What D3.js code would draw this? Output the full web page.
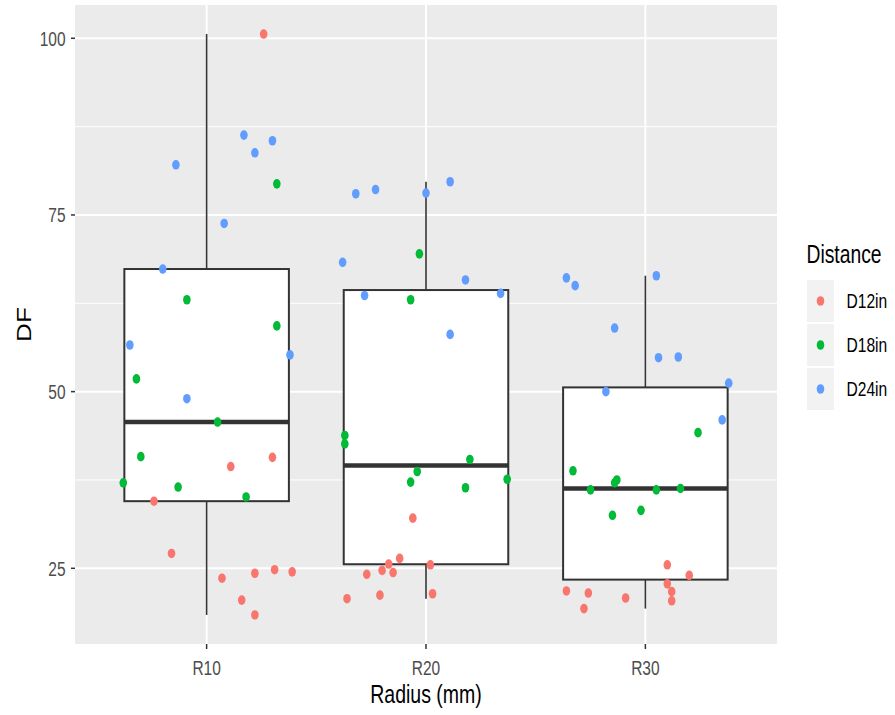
<!DOCTYPE html>
<html>
<head>
<meta charset="utf-8">
<script src="https://cdn.jsdelivr.net/npm/d3@7"></script>
<style>
  body { margin: 0; background: #fff; }
  text { font-family: "Liberation Sans", Arial, sans-serif; }
</style>
</head>
<body>
<svg id="chart" width="895" height="715"></svg>
<script>
const categories = ['R10', 'R20', 'R30'];
const distances = ['D12in', 'D18in', 'D24in'];
const colors = ['#F8766D', '#00BA38', '#619CFF'];
const yTicks = [25, 50, 75, 100];
const yMinor = [37.5, 62.5, 87.5];

// DF values, with the horizontal jitter (in category steps)
const dfR10D12 = [100.6, 40.7, 39.4, 34.5, 27.1, 23.6, 24.3, 24.8, 24.5, 20.5, 18.4];
const jitR10D12 = [0.26, 0.30, 0.11, -0.24, -0.16, 0.07, 0.22, 0.31, 0.39, 0.16, 0.22];
const dfR10D18 = [79.4, 63.0, 59.3, 51.8, 45.7, 40.8, 37.1, 36.5, 35.1];
const jitR10D18 = [0.32, -0.09, 0.32, -0.32, 0.05, -0.30, -0.38, -0.13, 0.18];
const dfR10D24 = [86.3, 85.5, 83.8, 82.1, 73.8, 67.35, 56.6, 55.2, 49.0];
const jitR10D24 = [0.17, 0.30, 0.22, -0.14, 0.08, -0.20, -0.35, 0.38, -0.09];

const dfR20D12 = [32.1, 26.4, 25.6, 25.5, 24.7, 24.4, 24.15, 20.7, 21.2, 21.4];
const jitR20D12 = [-0.06, -0.12, -0.17, 0.02, -0.20, -0.15, -0.27, -0.36, -0.21, 0.03];
const dfR20D18 = [69.5, 63.0, 43.8, 42.6, 40.4, 38.7, 37.2, 36.4, 37.6];
const jitR20D18 = [-0.03, -0.07, -0.37, -0.37, 0.20, -0.04, -0.07, 0.18, 0.37];
const dfR20D24 = [78.0, 78.6, 78.1, 79.7, 68.3, 65.8, 63.6, 63.9, 58.1];
const jitR20D24 = [-0.32, -0.23, 0.0, 0.11, -0.38, 0.18, -0.28, 0.34, 0.11];

const dfR30D12 = [25.5, 24.0, 22.8, 21.7, 20.4, 21.8, 21.5, 20.8, 19.3];
const jitR30D12 = [0.10, 0.20, 0.10, 0.12, 0.12, -0.36, -0.26, -0.09, -0.28];
const dfR30D18 = [44.2, 38.8, 37.5, 37.1, 36.1, 36.1, 36.3, 32.5, 33.2];
const jitR30D18 = [0.24, -0.33, -0.13, -0.14, -0.25, 0.05, 0.16, -0.15, -0.02];
const dfR30D24 = [66.1, 65.0, 66.4, 59.0, 54.8, 54.9, 51.2, 50.0, 46.0];
const jitR30D24 = [-0.36, -0.32, 0.05, -0.14, 0.06, 0.15, 0.38, -0.18, 0.35];

const groups = [
  ['R10', 'D12in', dfR10D12, jitR10D12], ['R10', 'D18in', dfR10D18, jitR10D18], ['R10', 'D24in', dfR10D24, jitR10D24],
  ['R20', 'D12in', dfR20D12, jitR20D12], ['R20', 'D18in', dfR20D18, jitR20D18], ['R20', 'D24in', dfR20D24, jitR20D24],
  ['R30', 'D12in', dfR30D12, jitR30D12], ['R30', 'D18in', dfR30D18, jitR30D18], ['R30', 'D24in', dfR30D24, jitR30D24]
];

const points = groups.flatMap(([cat, dist, vals, jit]) =>
  vals.map((v, i) => ({ cat, dist, df: v, jitter: jit[i] })));

const panel = { left: 75, top: 5, right: 777, bottom: 644 };
const textStretch = 1.34; // picture is a little taller than wide

const svg = d3.select('#chart');

const x = d3.scalePoint()
  .domain(categories)
  .range([panel.left, panel.right])
  .padding(0.6);
const step = x.step();

const ext = d3.extent(points, d => d.df);
const pad = (ext[1] - ext[0]) * 0.05;
const y = d3.scaleLinear()
  .domain([ext[0] - pad, ext[1] + pad])
  .range([panel.bottom, panel.top]);

const color = d3.scaleOrdinal().domain(distances).range(colors);

const stretchText = (sel, tx, ty, rot = 0) => {
  sel.attr('transform', rot
    ? `translate(${tx},${ty}) rotate(${rot}) scale(${textStretch},1)`
    : `translate(${tx},${ty}) scale(1,${textStretch})`);
  return sel;
};

// panel + grid
svg.append('rect')
  .attr('x', panel.left).attr('y', panel.top)
  .attr('width', panel.right - panel.left)
  .attr('height', panel.bottom - panel.top)
  .attr('fill', '#EBEBEB');

svg.append('g').selectAll('line')
  .data(yMinor)
  .join('line')
  .attr('x1', panel.left).attr('x2', panel.right)
  .attr('y1', d => y(d)).attr('y2', d => y(d))
  .attr('stroke', '#fff').attr('stroke-width', 1);

svg.append('g').selectAll('line')
  .data(yTicks)
  .join('line')
  .attr('x1', panel.left).attr('x2', panel.right)
  .attr('y1', d => y(d)).attr('y2', d => y(d))
  .attr('stroke', '#fff').attr('stroke-width', 2);

svg.append('g').selectAll('line')
  .data(categories)
  .join('line')
  .attr('x1', d => x(d)).attr('x2', d => x(d))
  .attr('y1', panel.top).attr('y2', panel.bottom)
  .attr('stroke', '#fff').attr('stroke-width', 2);

// box stats, computed the way R does (type 7 quantiles, 1.5 IQR whiskers)
const stats = categories.map(cat => {
  const v = points.filter(p => p.cat === cat).map(p => p.df).sort(d3.ascending);
  const q1 = d3.quantile(v, 0.25);
  const med = d3.quantile(v, 0.5);
  const q3 = d3.quantile(v, 0.75);
  const iqr = q3 - q1;
  const lo = d3.min(v.filter(d => d >= q1 - 1.5 * iqr));
  const hi = d3.max(v.filter(d => d <= q3 + 1.5 * iqr));
  return { cat, q1, med, q3, lo, hi };
});

const boxes = svg.append('g').selectAll('g')
  .data(stats)
  .join('g');

boxes.append('line')
  .attr('x1', d => x(d.cat)).attr('x2', d => x(d.cat))
  .attr('y1', d => y(d.q3)).attr('y2', d => y(d.hi))
  .attr('stroke', '#333').attr('stroke-width', 1.6);
boxes.append('line')
  .attr('x1', d => x(d.cat)).attr('x2', d => x(d.cat))
  .attr('y1', d => y(d.q1)).attr('y2', d => y(d.lo))
  .attr('stroke', '#333').attr('stroke-width', 1.6);
boxes.append('rect')
  .attr('x', d => x(d.cat) - step * 0.375)
  .attr('width', step * 0.75)
  .attr('y', d => y(d.q3))
  .attr('height', d => y(d.q1) - y(d.q3))
  .attr('fill', '#fff')
  .attr('stroke', '#333').attr('stroke-width', 2);
boxes.append('line')
  .attr('x1', d => x(d.cat) - step * 0.375)
  .attr('x2', d => x(d.cat) + step * 0.375)
  .attr('y1', d => y(d.med)).attr('y2', d => y(d.med))
  .attr('stroke', '#333').attr('stroke-width', 4.5);

// jittered points
svg.append('g').selectAll('ellipse')
  .data(points)
  .join('ellipse')
  .attr('cx', d => x(d.cat) + d.jitter * step)
  .attr('cy', d => y(d.df))
  .attr('rx', 3.8).attr('ry', 4.8)
  .attr('fill', d => color(d.dist));

// axes
svg.append('g').selectAll('line')
  .data(yTicks)
  .join('line')
  .attr('x1', panel.left - 4).attr('x2', panel.left)
  .attr('y1', d => y(d)).attr('y2', d => y(d))
  .attr('stroke', '#333').attr('stroke-width', 1.5);

svg.append('g').selectAll('text')
  .data(yTicks)
  .join('text')
  .each(function (d) { stretchText(d3.select(this), panel.left - 9.5, y(d) + 7.3); })
  .attr('text-anchor', 'end')
  .attr('font-size', 15.5)
  .attr('fill', '#4D4D4D')
  .text(d => d);

svg.append('g').selectAll('line')
  .data(categories)
  .join('line')
  .attr('x1', d => x(d)).attr('x2', d => x(d))
  .attr('y1', panel.bottom).attr('y2', panel.bottom + 5)
  .attr('stroke', '#333').attr('stroke-width', 1.5);

svg.append('g').selectAll('text')
  .data(categories)
  .join('text')
  .each(function (d) { stretchText(d3.select(this), x(d), 675); })
  .attr('text-anchor', 'middle')
  .attr('font-size', 15.5)
  .attr('fill', '#4D4D4D')
  .text(d => d);

svg.append('text')
  .call(stretchText, (panel.left + panel.right) / 2, 703)
  .attr('text-anchor', 'middle')
  .attr('font-size', 19.5)
  .attr('fill', '#000')
  .text('Radius (mm)');

svg.append('text')
  .call(stretchText, 30.5, (panel.top + panel.bottom) / 2, -90)
  .attr('text-anchor', 'middle')
  .attr('font-size', 19.5)
  .attr('fill', '#000')
  .text('DF');

// legend
const legend = svg.append('g');
legend.append('text')
  .call(stretchText, 806.5, 263)
  .attr('font-size', 19.3)
  .attr('fill', '#000')
  .text('Distance');

const keyH = 44;
const keys = legend.selectAll('g')
  .data(distances)
  .join('g')
  .attr('transform', (d, i) => `translate(806, ${279 + i * keyH})`);
keys.append('rect')
  .attr('width', 29).attr('height', keyH)
  .attr('fill', '#F2F2F2')
  .attr('stroke', '#fff').attr('stroke-width', 2);
keys.append('ellipse')
  .attr('cx', 14.5).attr('cy', keyH / 2)
  .attr('rx', 3.8).attr('ry', 4.8)
  .attr('fill', d => color(d));
keys.append('text')
  .each(function () { stretchText(d3.select(this), 40.5, keyH / 2 + 7.3); })
  .attr('font-size', 15.6)
  .attr('fill', '#000')
  .text(d => d);
</script>
</body>
</html>
